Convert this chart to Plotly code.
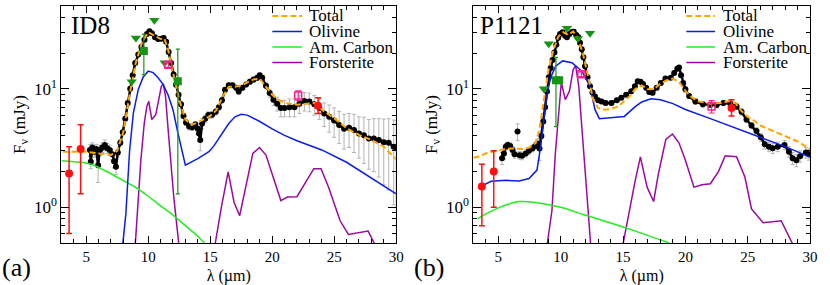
import plotly.graph_objects as go

# ---------------- Panel (a) : ID8 ----------------
a_spec_x = [5.30, 5.37, 5.50, 5.65, 5.80, 5.96, 6.10, 6.30, 6.50, 6.70, 6.90, 7.10, 7.25, 7.40, 7.55, 7.75,
            7.95, 8.15, 8.35, 8.55, 8.75, 8.95, 9.20, 9.45, 9.70, 9.90, 10.10, 10.30, 10.55, 10.80, 11.05,
            11.25, 11.45, 11.65, 11.85, 12.05, 12.25, 12.45, 12.65, 12.85, 13.05, 13.30, 13.55, 13.80, 14.00,
            14.10, 14.20, 14.35, 14.60, 14.85, 15.15, 15.45, 15.70, 15.95, 16.20, 16.50, 16.80, 17.10, 17.30,
            17.60, 17.90, 18.20, 18.50, 18.80, 19.00, 19.20, 19.50, 19.80, 20.10, 20.40, 20.70, 21.00, 21.40,
            21.80, 22.20, 22.60, 23.00, 23.40, 23.80, 24.20, 24.60, 25.00, 25.40, 25.80, 26.20, 26.60, 27.00,
            27.40, 27.80, 28.20, 28.60, 29.00, 29.40, 29.80, 30.00]
a_spec_y = [3.05, 2.42, 3.20, 2.95, 3.10, 2.27, 3.05, 3.20, 3.35, 3.15, 3.05, 2.80, 2.45, 2.20, 2.90, 3.50,
            4.30, 5.60, 7.60, 10.0, 13.0, 16.5, 19.5, 22.5, 26.0, 29.0, 30.6, 29.4, 27.2, 26.3, 26.5,
            26.8, 25.0, 20.5, 16.5, 13.2, 10.8, 8.9, 7.4, 5.9, 5.2, 4.8, 4.75, 5.0, 4.6,
            4.2, 3.7, 5.1, 5.6, 6.0, 6.05, 6.4, 7.0, 8.0, 9.8, 10.7, 10.7, 10.2, 9.5,
            10.2, 10.9, 11.5, 12.0, 12.4, 13.0, 12.4, 10.6, 9.2, 8.1, 7.5, 6.9, 6.9, 7.0,
            7.0, 7.5, 7.9, 7.8, 7.4, 6.9, 6.2, 5.8, 5.4, 4.95, 4.6, 4.7, 4.5, 4.2,
            4.05, 3.8, 3.8, 3.7, 3.55, 3.5, 3.25, 3.2]
a_spec_err = [0.35, 0.3, 0.3, 0.3, 0.3, 0.65, 0.3, 0.3, 0.35, 0.3, 0.3, 0.3, 0.3, 0.3, 0.2, 0.2,
              0.2, 0.2, 0.2, 0.3, 0.3, 0.3, 0.4, 0.4, 0.5, 0.5, 0.5, 0.5, 0.5, 0.5, 0.5,
              0.5, 0.5, 0.5, 0.4, 0.4, 0.4, 0.4, 0.3, 0.3, 0.3, 0.3, 0.3, 0.3, 0.5,
              0.6, 0.7, 0.5, 0.4, 0.4, 0.4, 0.4, 0.4, 0.4, 0.4, 0.5, 0.5, 0.5, 0.5,
              0.5, 0.5, 0.6, 0.6, 0.6, 0.6, 0.6, 0.6, 0.7, 0.9, 1.0, 1.1, 1.1, 1.2,
              1.2, 1.3, 1.4, 1.4, 1.4, 1.4, 1.4, 1.5, 1.5, 1.5, 1.5, 1.5, 1.6, 1.6,
              1.7, 1.7, 1.8, 1.9, 2.0, 2.1, 2.2, 2.2]

a_tot_x = [3.1, 4.0, 5.0, 6.0, 7.0, 7.5, 8.0, 8.5, 9.0, 9.5, 10.0, 10.5, 11.0, 11.3, 11.6, 12.0, 12.5, 13.0,
           13.5, 14.0, 14.5, 15.0, 15.5, 16.0, 16.5, 17.0, 17.5, 18.0, 18.5, 19.0, 19.5, 20.0, 20.5, 21.0,
           22.0, 23.0, 23.5, 24.0, 25.0, 26.0, 27.0, 28.0, 29.0, 30.0]
a_tot_y = [2.94, 2.94, 2.94, 2.85, 2.76, 3.0, 4.35, 8.9, 16.6, 24.6, 30.0, 28.1, 26.3, 26.6, 21.6, 13.7, 8.1, 5.5,
           4.97, 5.2, 5.5, 5.9, 6.6, 8.6, 10.4, 10.4, 10.7, 11.4, 12.0, 12.2, 10.5, 8.9, 8.1, 7.6,
           7.35, 7.5, 7.6, 6.67, 5.66, 4.65, 4.08, 3.7, 3.25, 2.54]

a_oli_x = [7.95, 8.2, 8.5, 8.8, 9.2, 9.6, 10.0, 10.4, 10.8, 11.2, 11.6, 12.0, 12.4, 12.8, 13.0, 14.0, 14.9,
           15.3, 16.0, 16.5, 17.0, 17.5, 18.0, 19.0, 20.0, 21.0, 22.0, 24.0, 26.0, 28.0, 30.0]
a_oli_y = [0.49, 0.88, 3.0, 6.2, 9.9, 12.6, 14.1, 13.7, 12.4, 10.9, 8.9, 6.67, 4.22, 2.67, 2.27, 2.58, 2.95,
           3.3, 4.3, 5.1, 5.8, 6.1, 6.0, 5.3, 4.6, 4.05, 3.65, 3.05, 2.4, 1.78, 1.3]

a_car_x = [3.0, 4.0, 5.0, 5.5, 6.0, 7.0, 8.0, 9.0, 10.0, 11.0, 12.0, 13.0, 14.0, 14.6]
a_car_y = [2.47, 2.42, 2.36, 2.30, 2.17, 1.92, 1.68, 1.47, 1.24, 1.03, 0.86, 0.70, 0.57, 0.49]

a_for_x = [8.96, 9.15, 9.41, 9.68, 9.89, 10.05, 10.29, 10.61, 10.88, 11.06, 11.22, 11.40, 11.61, 11.80, 12.07,
           12.33, 12.47, None,
           15.4, 15.9, 16.45, 16.93, 17.38, 18.44, 18.98, 19.5, 20.7, 21.23, 22.0, 23.36, 23.94, 24.55,
           25.48, 26.15, 27.74, 28.27]
a_for_y = [0.49, 0.94, 2.5, 5.1, 7.1, 7.85, 5.5, 6.05, 8.1, 10.5, 11.0, 8.6, 4.5, 2.5, 1.2,
           0.67, 0.49, None,
           0.49, 1.0, 1.99, 1.1, 0.85, 2.85, 3.2, 2.76, 1.14, 1.22, 1.23, 2.12, 2.12, 1.48,
           0.77, 0.59, 0.63, 0.49]

a_red_x = [3.62, 4.55, 23.7]
a_red_y = [1.93, 3.1, 7.2]
a_red_up = [1.32, 1.87, 1.2]
a_red_dn = [1.33, 1.8, 1.0]

a_mag_x = [11.62, 22.1]
a_mag_y = [16.0, 8.8]
a_mag_err = [0.8, 0.8]

a_gsq_x = [9.65, 12.39]
a_gsq_y = [20.9, 11.6]
a_gsq_up = [8.1, 10.0]
a_gsq_dn = [7.7, 10.3]

a_tri_x = [8.67, 9.01, 10.5, 11.33]
a_tri_y = [11.5, 26.8, 37.9, 16.6]

# ---------------- Panel (b) : P1121 ----------------
b_spec_x = [5.30, 5.45, 5.60, 5.75, 5.95, 6.14, 6.30, 6.70, 6.90, 7.20, 7.45, 7.73, 7.95, 8.12, 8.30, 8.45,
            8.60, 8.75, 8.90, 9.05, 9.20, 9.35, 9.50, 9.65, 9.80, 9.95, 10.15, 10.35, 10.50, 10.70, 10.90,
            11.05, 11.25, 11.42, 11.55, 11.69, 11.82, 11.95, 12.15, 12.35, 12.55, 12.75, 13.00, 13.28, 13.60,
            14.07, 14.50, 14.86, 15.25, 15.66, 15.95, 16.18, 16.40, 16.60, 16.85, 17.10, 17.37, 17.70, 18.03,
            18.40, 18.83, 19.10, 19.35, 19.49, 19.65, 19.82, 20.00, 20.30, 20.80, 21.40, 22.00, 22.50, 23.05,
            23.60, 24.10, 24.50, 24.90, 25.30, 25.70, 26.05, 26.36, 26.70, 27.00, 27.40, 27.95, 28.30, 28.60,
            28.90, 29.20, 29.66, 29.90]
b_spec_y = [2.60, 2.85, 3.25, 3.36, 3.30, 3.04, 2.80, 2.75, 2.72, 2.85, 3.00, 3.14, 3.30, 3.46, 3.14, 4.0,
            5.3, 7.0, 9.5, 12.5, 15.0, 17.5, 20.3, 23.5, 27.0, 29.0, 30.0, 28.0, 27.2, 29.0, 30.2,
            30.3, 28.5, 27.2, 24.5, 21.6, 18.5, 15.5, 12.5, 10.5, 9.3, 8.6, 8.0, 7.8, 7.6,
            7.6, 8.0, 8.4, 8.9, 9.55, 10.5, 11.6, 11.5, 11.0, 10.2, 9.4, 9.25, 10.2, 11.2,
            12.2, 12.4, 13.6, 14.8, 15.1, 13.0, 11.2, 9.9, 8.7, 7.8, 7.4, 7.35, 7.3, 7.6,
            7.5, 7.1, 6.4, 5.5, 4.9, 4.4, 3.9, 3.4, 3.25, 3.15, 3.25, 3.36, 2.95, 2.6,
            2.5, 2.7, 2.9, 2.8]
b_spec_err = [0.3, 0.3, 0.2, 0.2, 0.2, 0.2, 0.2, 0.2, 0.2, 0.2, 0.2, 0.2, 0.2, 0.3, 0.65, 0.2,
              0.2, 0.2, 0.3, 0.3, 0.3, 0.3, 0.4, 0.4, 0.4, 0.5, 0.5, 0.5, 0.5, 0.5, 0.5,
              0.5, 0.5, 0.5, 0.5, 0.4, 0.4, 0.4, 0.3, 0.3, 0.3, 0.3, 0.3, 0.3, 0.3,
              0.3, 0.3, 0.3, 0.3, 0.3, 0.3, 0.4, 0.4, 0.4, 0.4, 0.4, 0.4, 0.4, 0.4,
              0.4, 0.4, 0.5, 0.5, 0.5, 0.5, 0.5, 0.5, 0.4, 0.4, 0.4, 0.4, 0.4, 0.4,
              0.4, 0.4, 0.4, 0.3, 0.3, 0.3, 0.3, 0.3, 0.3, 0.3, 0.3, 0.3, 0.3, 0.3,
              0.3, 0.3, 0.3, 0.3]
b_out_x = [6.54]
b_out_y = [4.36]
b_out_err = [0.7]

b_tot_x = [3.0, 3.36, 4.0, 5.08, 6.0, 7.0, 7.5, 8.0, 8.3, 8.6, 9.0, 9.4, 9.8, 10.2, 10.6, 11.0, 11.4, 11.8,
           12.2, 12.6, 13.0, 13.5, 14.0, 14.6, 15.0, 15.5, 16.0, 16.5, 17.0, 17.5, 18.0, 18.5, 19.0, 19.5,
           20.0, 20.5, 21.0, 22.0, 23.0, 23.5, 24.0, 24.5, 25.0, 25.5, 26.0, 27.0, 28.0, 29.0, 30.0]
b_tot_y = [2.62, 2.67, 2.85, 3.04, 3.14, 3.10, 3.2, 3.5, 4.6, 7.5, 14.0, 21.0, 27.5, 30.0, 28.5, 30.5, 26.5, 19.5,
           12.5, 8.2, 6.9, 6.67, 6.75, 7.1, 7.7, 8.6, 10.0, 10.7, 9.9, 10.0, 11.1, 11.8, 12.2, 11.4,
           9.6, 8.5, 7.85, 7.5, 7.6, 7.9, 7.6, 6.5, 5.8, 5.4, 4.9, 4.4, 4.0, 3.6, 3.1]

b_oli_x = [3.36, 4.0, 4.42, 5.61, 6.67, 7.46, 8.1, 8.4, 8.6, 8.8, 9.0, 9.2, 9.6, 10.15, 10.9, 11.7, 12.35,
           12.75, 13.1, 14.0, 15.1, 16.0, 16.5, 17.24, 18.0, 19.0, 20.0, 22.0, 24.0, 26.0, 28.0, 30.0]
b_oli_y = [1.46, 1.58, 1.66, 1.69, 1.67, 1.75, 2.06, 3.3, 5.0, 7.4, 10.0, 12.5, 15.5, 17.2, 16.6, 14.1, 10.5,
           6.67, 5.6, 5.7, 5.85, 7.1, 7.75, 8.26, 8.1, 7.5, 6.7, 5.6, 4.7, 3.9, 3.25, 2.65]

b_car_x = [3.34, 4.0, 5.0, 6.0, 6.66, 8.0, 10.0, 11.95, 14.33, 16.0, 18.69]
b_car_y = [0.80, 0.88, 0.99, 1.08, 1.12, 1.10, 1.00, 0.86, 0.72, 0.63, 0.50]

b_for_x = [8.92, 9.3, 9.57, 9.85, 10.05, 10.37, 10.7, 11.0, 11.2, 11.45, 11.7, 11.95, 12.2, 12.4, None,
           15.0, 15.52, 15.95, 16.39, 16.93, 17.45, 17.84, 18.43, 18.96, 19.48, 20.0, 20.68, 21.33, 22.0,
           22.65, 23.19, 23.7, 24.1, 24.77, 25.3, 26.23, 27.68, 28.6]
b_for_y = [0.49, 0.94, 2.85, 6.5, 11.3, 8.1, 9.55, 14.5, 15.7, 10.5, 4.5, 2.0, 0.97, 0.49, None,
           0.49, 0.97, 1.63, 2.67, 1.48, 1.12, 1.93, 3.75, 4.16, 3.5, 2.5, 1.48, 1.55, 1.58,
           2.0, 2.72, 2.7, 2.67, 1.8, 0.97, 0.74, 0.77, 0.49]

b_red_x = [3.68, 4.63, 23.7]
b_red_y = [1.5, 2.01, 6.9]
b_red_up = [0.81, 0.99, 1.2]
b_red_dn = [0.80, 1.01, 1.0]

b_mag_x = [11.66, 22.1]
b_mag_y = [13.3, 7.1]
b_mag_err = [0.6, 0.85]

b_gsq_x = [9.62, 9.87]
b_gsq_y = [11.8, 11.8]
b_gsq_up = [6.6, 0]
b_gsq_dn = [7.0, 0]

b_tri_x = [8.65, 9.04, 10.5, 11.37, 12.35]
b_tri_y = [10.0, 24.0, 32.5, 26.6, 29.5]

# legend entries
legend_names = ["Total", "Olivine", "Am. Carbon", "Forsterite"]

# ---------------- styling ----------------
FONT = "Liberation Serif, Times New Roman, serif"
W, H = 830, 285
C_TOT = "#ffa500"
C_OLI = "#0a1ee6"
C_CAR = "#22ee22"
C_FOR = "#9a0aa0"
C_GRN = "#149614"
C_RED = "#ff1010"
C_MAG = "#ff2090"
C_ERR = "#b4b4b4"
legend_styles = [dict(color=C_TOT, width=2, dash="6px,3px"), dict(color=C_OLI, width=1.5),
                 dict(color=C_CAR, width=1.5), dict(color=C_FOR, width=1.5)]

fig = go.Figure()


def add_panel(n, spec_x, spec_y, spec_err, tot_x, tot_y, oli_x, oli_y, car_x, car_y, for_x, for_y,
              red_x, red_y, red_up, red_dn, mag_x, mag_y, mag_err, gsq_x, gsq_y, gsq_up, gsq_dn,
              tri_x, tri_y, extra=None):
    xa = "x" if n == 1 else "x2"
    ya = "y" if n == 1 else "y2"
    fig.add_trace(go.Scatter(x=spec_x, y=spec_y, mode="lines+markers", xaxis=xa, yaxis=ya, showlegend=False,
                             line=dict(color="black", width=2.5),
                             marker=dict(color="black", size=6),
                             error_y=dict(type="data", array=spec_err, color=C_ERR, thickness=1, width=2)))
    if extra is not None:
        ex, ey, ee = extra
        fig.add_trace(go.Scatter(x=ex, y=ey, mode="markers", xaxis=xa, yaxis=ya, showlegend=False,
                                 marker=dict(color="black", size=6),
                                 error_y=dict(type="data", array=ee, color=C_ERR, thickness=1, width=2)))
    fig.add_trace(go.Scatter(x=for_x, y=for_y, mode="lines", name="Forsterite", xaxis=xa, yaxis=ya,
                             showlegend=False, connectgaps=False, line=dict(color=C_FOR, width=1.5)))
    fig.add_trace(go.Scatter(x=car_x, y=car_y, mode="lines", name="Am. Carbon", xaxis=xa, yaxis=ya,
                             showlegend=False, line=dict(color=C_CAR, width=1.5, shape="spline")))
    fig.add_trace(go.Scatter(x=oli_x, y=oli_y, mode="lines", name="Olivine", xaxis=xa, yaxis=ya,
                             showlegend=False, line=dict(color=C_OLI, width=1.5)))
    fig.add_trace(go.Scatter(x=tot_x, y=tot_y, mode="lines", name="Total", xaxis=xa, yaxis=ya,
                             showlegend=False, line=dict(color=C_TOT, width=2, dash="6px,3px")))
    fig.add_trace(go.Scatter(x=gsq_x, y=gsq_y, mode="markers", xaxis=xa, yaxis=ya, showlegend=False,
                             marker=dict(symbol="square", color=C_GRN, size=8),
                             error_y=dict(type="data", symmetric=False, array=gsq_up, arrayminus=gsq_dn,
                                          color=C_GRN, thickness=1.2, width=2)))
    fig.add_trace(go.Scatter(x=tri_x, y=tri_y, mode="markers", xaxis=xa, yaxis=ya, showlegend=False,
                             marker=dict(symbol="triangle-down", color=C_GRN, size=9)))
    fig.add_trace(go.Scatter(x=red_x, y=red_y, mode="markers", xaxis=xa, yaxis=ya, showlegend=False,
                             marker=dict(symbol="circle", color=C_RED, size=8),
                             error_y=dict(type="data", symmetric=False, array=red_up, arrayminus=red_dn,
                                          color=C_RED, thickness=1.5, width=3)))
    fig.add_trace(go.Scatter(x=mag_x, y=mag_y, mode="markers", xaxis=xa, yaxis=ya, showlegend=False,
                             marker=dict(symbol="square-open", color=C_MAG, size=7, line=dict(width=1.5)),
                             error_y=dict(type="data", array=mag_err, color=C_MAG, thickness=1.2, width=3)))


add_panel(1, a_spec_x, a_spec_y, a_spec_err, a_tot_x, a_tot_y, a_oli_x, a_oli_y, a_car_x, a_car_y,
          a_for_x, a_for_y, a_red_x, a_red_y, a_red_up, a_red_dn, a_mag_x, a_mag_y, a_mag_err,
          a_gsq_x, a_gsq_y, a_gsq_up, a_gsq_dn, a_tri_x, a_tri_y)
add_panel(2, b_spec_x, b_spec_y, b_spec_err, b_tot_x, b_tot_y, b_oli_x, b_oli_y, b_car_x, b_car_y,
          b_for_x, b_for_y, b_red_x, b_red_y, b_red_up, b_red_dn, b_mag_x, b_mag_y, b_mag_err,
          b_gsq_x, b_gsq_y, b_gsq_up, b_gsq_dn, b_tri_x, b_tri_y, extra=(b_out_x, b_out_y, b_out_err))

x_ticks = [5, 10, 15, 20, 25, 30]
y_ticks = [1, 10]
y_ticktext = ["10<sup>0</sup>", "10<sup>1</sup>"]
y_minor = [0.5, 0.6, 0.7, 0.8, 0.9, 2, 3, 4, 5, 6, 7, 8, 9, 20, 30, 40, 50]

top = 1 - 6 / H
bot = 1 - 243 / H


def xaxis(d0, d1, anchor):
    return dict(domain=[d0 / W, d1 / W], anchor=anchor, range=[3, 30], showline=True, linecolor="black",
                linewidth=1, mirror="ticks", ticks="inside", ticklen=7, tickcolor="black",
                tickvals=x_ticks, showgrid=False, zeroline=False,
                minor=dict(ticks="inside", ticklen=4, dtick=1, tick0=0, tickcolor="black", showgrid=False),
                tickfont=dict(family=FONT, size=15, color="black"),
                title=dict(text="λ (µm)", font=dict(family=FONT, size=16, color="black"), standoff=5))


def yaxis(anchor):
    return dict(domain=[bot, top], anchor=anchor, type="log", range=[-0.30103, 1.69897], showline=True,
                linecolor="black", linewidth=1, mirror="ticks", ticks="inside", ticklen=8, tickcolor="black",
                tickvals=y_ticks, ticktext=y_ticktext, showgrid=False, zeroline=False,
                minor=dict(ticks="inside", ticklen=4, tickvals=y_minor, tickcolor="black", showgrid=False),
                tickfont=dict(family=FONT, size=17, color="black"),
                title=dict(text="F<sub>ν</sub> (mJy)", font=dict(family=FONT, size=17, color="black"),
                           standoff=4))


# custom compact legends (paper coordinates, pixel based)
shapes = []
annotations = []
legend_rows = [16, 31.5, 47, 62.5]
for (lx0, lx1, tx) in [(275, 305, 311), (693, 722, 729)]:
    for name, style, ry in zip(legend_names, legend_styles, legend_rows):
        shapes.append(dict(type="line", xref="paper", yref="paper", x0=lx0 / W, x1=lx1 / W,
                           y0=1 - ry / H, y1=1 - ry / H, line=style))
        annotations.append(dict(text=name, x=tx / W, y=1 - ry / H, xref="paper", yref="paper",
                                xanchor="left", yanchor="middle", showarrow=False, height=15,
                                valign="middle", borderpad=0,
                                font=dict(family=FONT, size=17, color="black")))

annotations += [
    dict(text="ID8", x=70 / W, y=1 - 25 / H, xref="paper", yref="paper", xanchor="left", yanchor="middle",
         showarrow=False, font=dict(family=FONT, size=25, color="black")),
    dict(text="P1121", x=483 / W, y=1 - 25 / H, xref="paper", yref="paper", xanchor="left",
         yanchor="middle", showarrow=False, font=dict(family=FONT, size=25, color="black")),
    dict(text="(a)", x=0 / W, y=1 - 267 / H, xref="paper", yref="paper", xanchor="left", yanchor="middle",
         showarrow=False, font=dict(family=FONT, size=26, color="black")),
    dict(text="(b)", x=416 / W, y=1 - 267 / H, xref="paper", yref="paper", xanchor="left",
         yanchor="middle", showarrow=False, font=dict(family=FONT, size=26, color="black")),
]

fig.update_layout(
    width=W, height=H,
    margin=dict(l=0, r=0, t=0, b=0),
    paper_bgcolor="white", plot_bgcolor="white",
    font=dict(family=FONT, color="black"),
    xaxis=xaxis(62, 400, "y"),
    yaxis=yaxis("x"),
    xaxis2=xaxis(478, 818, "y2"),
    yaxis2=yaxis("x2"),
    showlegend=False,
    shapes=shapes,
    annotations=annotations,
)

fig.write_html("out.html", config={"displayModeBar": False},
               post_script="document.body.style.margin='0';document.body.style.overflow='hidden';")
